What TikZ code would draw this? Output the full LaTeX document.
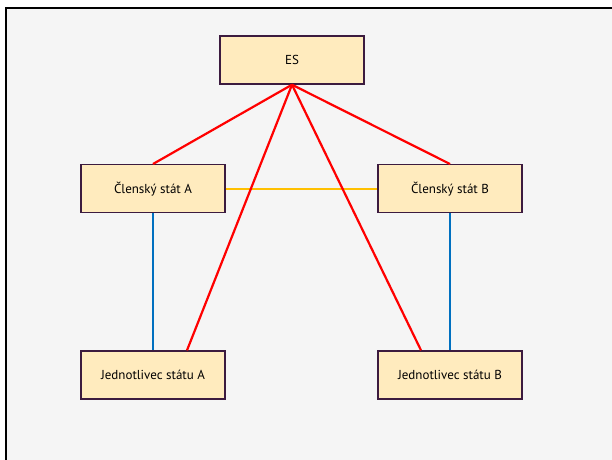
\documentclass[tikz,border=0pt]{standalone}
\usepackage{fontspec}
\setmainfont{PT Sans}
\definecolor{boxfill}{HTML}{FFEBBE}
\definecolor{boxline}{HTML}{3C1B3F}
\definecolor{panel}{HTML}{F5F5F5}
\definecolor{esred}{HTML}{FF0000}
\definecolor{linkorange}{HTML}{FFC000}
\definecolor{linkblue}{HTML}{0070C0}
\tikzset{
    entity/.style={draw=boxline, fill=boxfill, line width=1.4pt,
        minimum width=144pt, minimum height=48pt, inner sep=0pt,
        font=\fontsize{13}{15}\selectfont},
    link/.style={line width=2.2pt}
}
\begin{document}
\begin{tikzpicture}[x=1pt,y=-1pt]
            % Frame
            \useasboundingbox (0,0) rectangle (612,459);
            \clip (0,0) rectangle (612,459);
            \fill[white] (0,0) rectangle (612,459);
            \draw[line width=2pt, fill=panel] (6.3,8.4) rectangle (640,480);

            % Boxes
            \node[entity] (es) at (292,60) {ES};
            \node[entity] (stA) at (153,188.7) {Členský stát A};
            \node[entity] (stB) at (450,188.7) {Členský stát B};
            \node[entity] (osA) at (153,375) {Jednotlivec státu A};
            \node[entity] (osB) at (450,375) {Jednotlivec státu B};

            % Between the states
            \draw[link, linkorange] (stA.east) -- (stB.west);

            % State to its own people
            \draw[link, linkblue] (stA.south) -- (osA.north);
            \draw[link, linkblue] (stB.south) -- (osB.north);

            % ES to everyone
            \draw[link, esred] (es.south) -- (stA.north);
            \draw[link, esred] (es.south) -- (stB.north);
            \draw[link, esred] (es.south) -- ([xshift=34pt]osA.north);
            \draw[link, esred] (es.south) -- ([xshift=-29pt]osB.north);
\end{tikzpicture}
\end{document}
